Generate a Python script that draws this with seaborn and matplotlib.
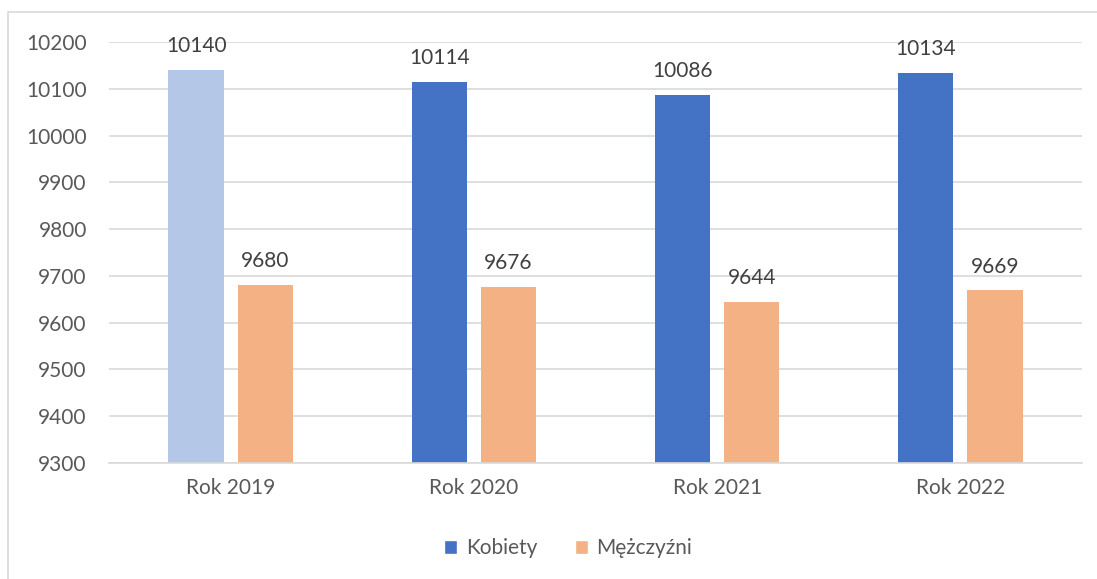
import matplotlib
matplotlib.use("Agg")
import matplotlib.pyplot as plt
import seaborn as sns
import pandas as pd
from matplotlib.patches import Rectangle, Patch

categories = ["Rok 2019", "Rok 2020", "Rok 2021", "Rok 2022"]
kobiety = [10140, 10114, 10086, 10134]
mezczyzni = [9680, 9676, 9644, 9669]
series = ["Kobiety", "Mężczyźni"]
yticks = list(range(9300, 10201, 100))

sns.set_theme(style="white")
plt.rcParams["font.family"] = ["Lato", "DejaVu Sans"]

df = pd.DataFrame({
    "cat": categories * 2,
    "val": kobiety + mezczyzni,
    "ser": [series[0]] * 4 + [series[1]] * 4,
})

blue = "#4472C4"
light_blue = "#B4C7E7"
orange = "#F4B183"
FS = 15

fig = plt.figure(figsize=(10.97, 5.79), dpi=100)
ax = fig.add_axes([109 / 1097, 1 - 463 / 579, (1082 - 109) / 1097, (463 - 42) / 579])

sns.barplot(data=df, x="cat", y="val", hue="ser", palette=[blue, orange], saturation=1,
            width=0.568, gap=0.2, ax=ax, legend=False)

ax.set_ylim(9300, 10200)
ax.set_xlim(-0.5, 3.5)

bars = [p for p in ax.patches if isinstance(p, Rectangle)]
for p in bars:
    h = p.get_height()
    p.set_y(9300)
    p.set_height(h - 9300)
    p.set_edgecolor("none")
bars_sorted = sorted(bars, key=lambda p: p.get_x())
bars_sorted[0].set_facecolor(light_blue)

for p in bars:
    top = p.get_y() + p.get_height()
    ax.annotate(f"{int(round(top))}", (p.get_x() + p.get_width() / 2, top),
                xytext=(0, 10), textcoords="offset points", ha="center", va="bottom",
                fontsize=FS, color="#404040")

ax.set_yticks(yticks)
ax.set_yticklabels([str(t) for t in yticks])
ax.yaxis.grid(True, color="#D9D9D9", linewidth=1.2)
ax.set_axisbelow(True)
for s in ["top", "right", "left"]:
    ax.spines[s].set_visible(False)
ax.spines["bottom"].set_color("#D9D9D9")
ax.spines["bottom"].set_linewidth(1.2)
ax.tick_params(axis="both", length=0, labelsize=FS, colors="#595959")
ax.tick_params(axis="y", pad=16)
ax.tick_params(axis="x", pad=11)
ax.set_xlabel("")
ax.set_ylabel("")

handles = [Patch(facecolor=blue, label=series[0]), Patch(facecolor=orange, label=series[1])]
leg = fig.legend(handles=handles, loc="center", bbox_to_anchor=(568 / 1097, 1 - 548 / 579), ncol=2,
                 frameon=False, fontsize=FS, handlelength=0.65, handleheight=0.65,
                 handletextpad=0.4, columnspacing=1.8)
for t in leg.get_texts():
    t.set_color("#595959")

border = Rectangle((8 / 1097, -0.01), 1.02, 1 - 12 / 579 + 0.01, transform=fig.transFigure,
                   fill=False, edgecolor="#D9D9D9", linewidth=1.2)
fig.patches.append(border)

fig.savefig("out.png", dpi=100)
